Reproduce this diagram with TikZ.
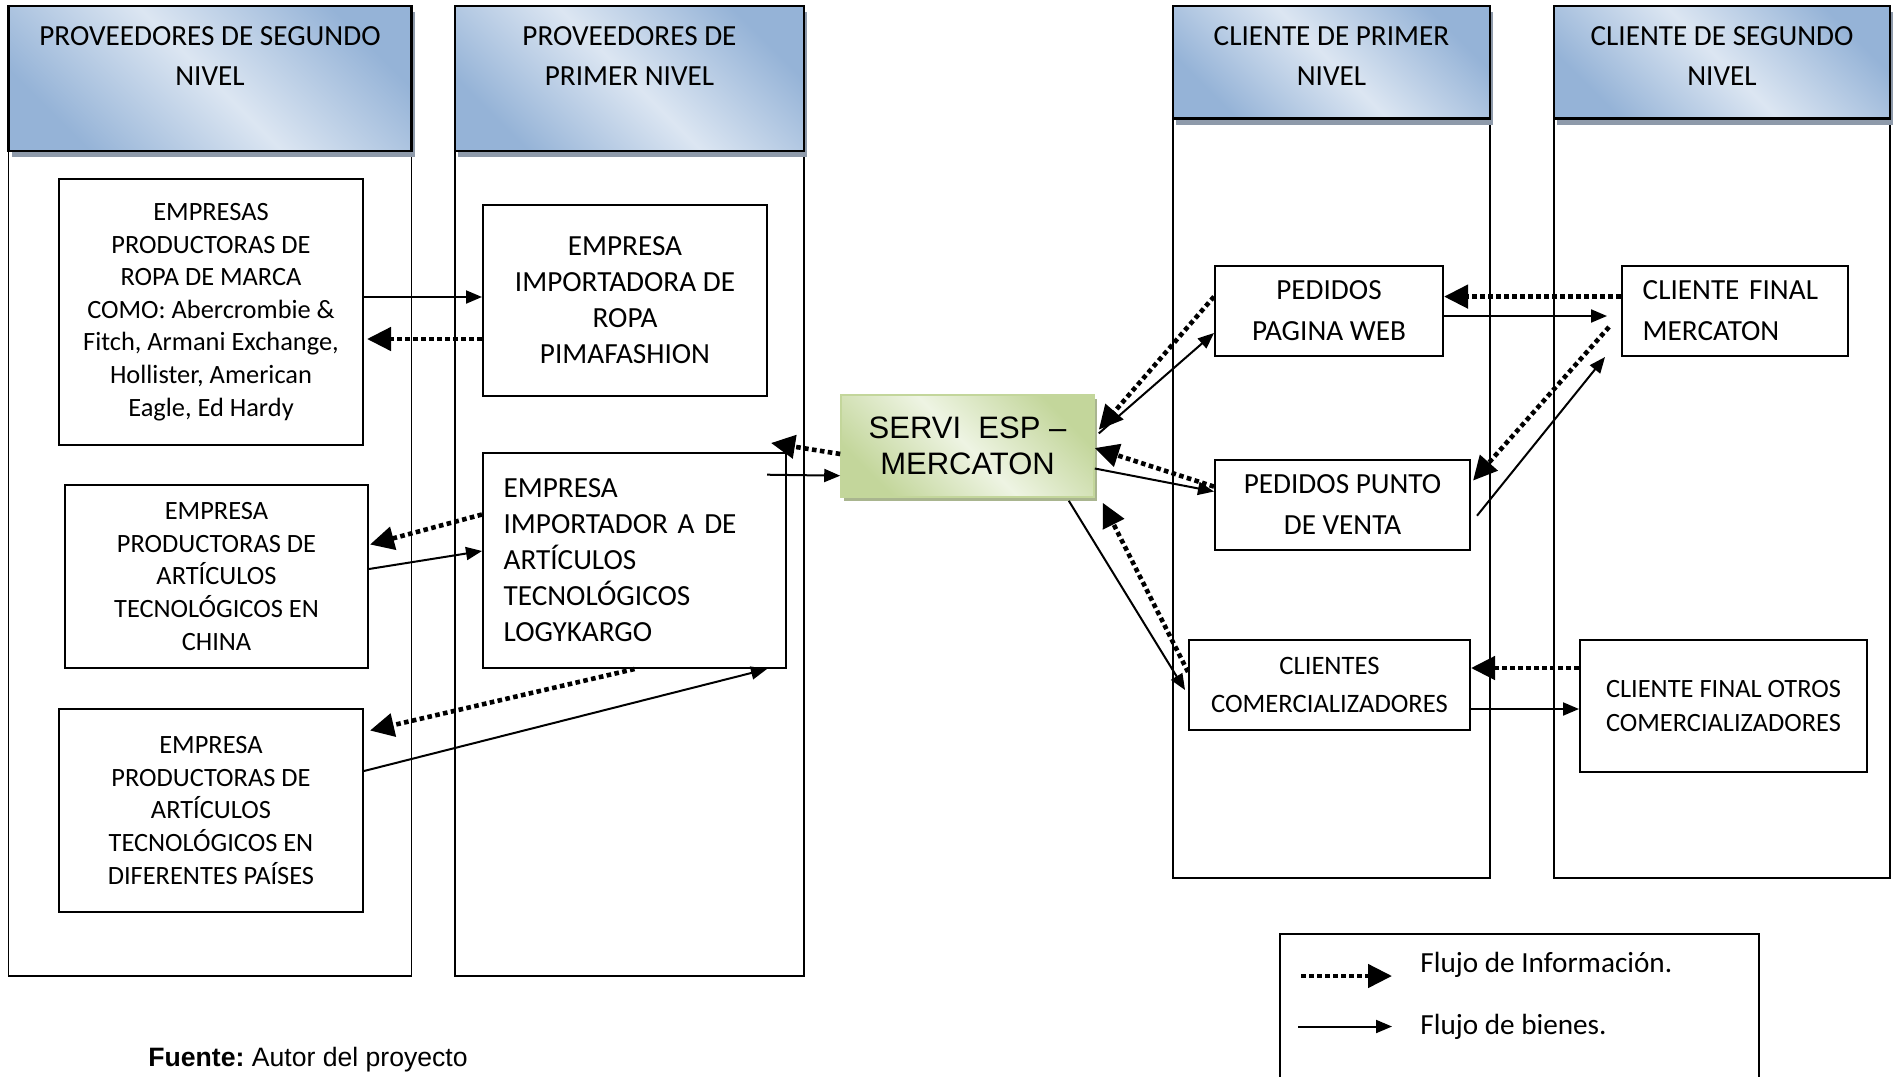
\documentclass[tikz,border=0pt]{standalone}
\usepackage{fontspec}
\setmainfont{Carlito}
\newfontfamily\arialfont{Liberation Sans}
\usetikzlibrary{positioning, arrows.meta, shadows}

\definecolor{headdark}{HTML}{95B3D7}
\definecolor{headlight}{HTML}{DCE6F2}
\definecolor{headshadow}{HTML}{8E9AAA}
\definecolor{greendark}{HTML}{C3D69B}
\definecolor{greenlight}{HTML}{EEF4E3}
\definecolor{greenshadow}{HTML}{A9B58F}

\newcommand{\fntbig}{\fontsize{14.6}{18}\selectfont}
\newcommand{\fntsmall}{\fontsize{13.2}{16.3}\selectfont}

\begin{document}
\begin{tikzpicture}[
    x=0.5pt, y=-0.5pt,
    column/.style={draw, line width=0.8pt, inner sep=0pt},
    header/.style={draw, line width=1.4pt, inner sep=0pt,
                   top color=headdark, bottom color=headdark, middle color=headlight,
                   shading angle=-45,
                   drop shadow={shadow xshift=1.5pt, shadow yshift=-3pt,
                                fill=headshadow, opacity=1}},
    headtxt/.style={align=center, inner sep=0pt, font=\fontsize{14.6}{20}\selectfont},
    box/.style={draw, line width=1pt, align=center, inner sep=0pt},
    servibox/.style={draw=greendark, line width=0.8pt, inner sep=0pt, align=center,
                     top color=greendark, bottom color=greendark, middle color=greenlight,
                     shading angle=-45,
                     drop shadow={shadow xshift=1.5pt, shadow yshift=-2pt,
                                  fill=greenshadow, opacity=1},
                     font=\arialfont\fontsize{15.5}{18}\selectfont},
    info/.style={line width=2.3pt, dash pattern=on 2.3pt off 1.7pt,
                 -{Triangle[length=12pt, width=11.5pt]}},
    goods/.style={line width=1pt, -{Triangle[length=8pt, width=6.5pt]}},
    legtxt/.style={inner sep=0pt, font=\fntbig}
]
\useasboundingbox (0,0) rectangle (1898,1076);

% Columns
\node[column, minimum width=201.5pt, minimum height=485pt] (col1) at (210,491) {};
\node[column, minimum width=174.5pt, minimum height=485pt] (col2) at (629.5,491) {};
\node[column, minimum width=158.5pt, minimum height=436pt] (col3) at (1331.5,442) {};
\node[column, minimum width=168pt, minimum height=436pt] (col4) at (1722,442) {};

% Headers
\node[header, minimum width=201.5pt, minimum height=72.5pt] (head1) at (210,78.5) {};
\node[header, minimum width=174.5pt, minimum height=72.5pt] (head2) at (629.5,78.5) {};
\node[header, minimum width=158.5pt, minimum height=56.3pt] (head3) at (1331.5,62.3) {};
\node[header, minimum width=168pt, minimum height=56.3pt] (head4) at (1722,62.3) {};
\node[headtxt] (head1t) at (210,56) {PROVEEDORES DE SEGUNDO\\NIVEL};
\node[headtxt] (head2t) at (629.5,56) {PROVEEDORES DE\\PRIMER NIVEL};
\node[headtxt] (head3t) at (1331.5,56) {CLIENTE DE PRIMER\\NIVEL};
\node[headtxt] (head4t) at (1722,56) {CLIENTE DE SEGUNDO\\NIVEL};

% Proveedores de segundo nivel
\node[box, font=\fntsmall, minimum width=152pt, minimum height=133pt] (emp1) at (211,312)
    {EMPRESAS\\PRODUCTORAS DE\\ROPA DE MARCA\\COMO: Abercrombie \&\\Fitch, Armani Exchange,\\Hollister, American\\Eagle, Ed Hardy};
\node[box, font=\fntsmall, minimum width=151.5pt, minimum height=91.5pt] (emp2) at (216.5,576.5)
    {EMPRESA\\PRODUCTORAS DE\\ARTÍCULOS\\TECNOLÓGICOS EN\\CHINA};
\node[box, font=\fntsmall, minimum width=152pt, minimum height=101.5pt] (emp3) at (211,810.5)
    {EMPRESA\\PRODUCTORAS DE\\ARTÍCULOS\\TECNOLÓGICOS EN\\DIFERENTES PAÍSES};

% Proveedores de primer nivel
\node[box, font=\fntbig, minimum width=142pt, minimum height=95.5pt] (imp1) at (625,300.5)
    {EMPRESA\\IMPORTADORA DE\\ROPA\\PIMAFASHION};
\node[box, font=\fntbig, align=left, inner xsep=10.3pt, text width=130.9pt,
      minimum height=107.5pt] (imp2) at (634.5,560.5)
    {EMPRESA\\IMPORTADOR A DE\\ARTÍCULOS\\TECNOLÓGICOS\\LOGYKARGO};

% Empresa
\node[servibox, minimum width=126.5pt, minimum height=51pt] (servi) at (967.5,446)
    {SERVI\ \ ESP –\\MERCATON};

% Clientes de primer nivel
\node[box, font=\fontsize{14.6}{20.5}\selectfont, minimum width=114pt, minimum height=45pt] (web) at (1329,311)
    {PEDIDOS\\PAGINA WEB};
\node[box, font=\fontsize{14.6}{20.5}\selectfont, minimum width=127.5pt, minimum height=45pt] (punto) at (1342.5,505)
    {PEDIDOS PUNTO\\DE VENTA};
\node[box, font=\fontsize{13.3}{19.4}\selectfont, minimum width=140.5pt, minimum height=45pt] (comer) at (1329.5,685)
    {CLIENTES\\COMERCIALIZADORES};

% Clientes de segundo nivel
\node[box, font=\fontsize{14.6}{20.5}\selectfont, align=left, inner xsep=10.35pt, text width=92.3pt,
      minimum height=45pt] (final) at (1735,311)
    {CLIENTE FINAL\\MERCATON};
\node[box, font=\fontsize{13.2}{17}\selectfont, minimum width=143.5pt, minimum height=66pt] (otros) at (1723.5,706)
    {CLIENTE FINAL OTROS\\COMERCIALIZADORES};

% Flujos proveedores
\draw[goods] ([yshift=7.5pt]emp1.east) -- ([yshift=1.75pt]imp1.west);
\draw[info] ([yshift=-19.25pt]imp1.west) -- ([yshift=-13.5pt, xshift=1.5pt]emp1.east);
\draw[info] ([yshift=23pt]imp2.west) -- ([yshift=16pt, xshift=0.5pt]emp2.east);
\draw[goods] ([yshift=3.75pt]emp2.east) -- ([yshift=4.75pt]imp2.west);
\draw[info] (imp2.south) -- ([yshift=40pt, xshift=3pt]emp3.east);
\draw[goods] ([yshift=19.75pt]emp3.east) -- ([xshift=-10pt]imp2.south east);
\draw[info] ([yshift=-4pt]servi.west) -- ([xshift=-8pt, yshift=4.5pt]imp2.north east);
\draw[goods] ([xshift=-10pt, yshift=-11.35pt]imp2.north east) -- ([yshift=-14.85pt]servi.west);

% Flujos clientes
\draw[info] ([yshift=7.2pt]web.west) -- ([xshift=2pt, yshift=8.15pt]servi.east);
\draw[goods] ([xshift=2pt, yshift=6.3pt]servi.east) -- ([yshift=-11pt]web.west);
\draw[info] ([yshift=9.2pt]punto.west) -- ([yshift=-1pt]servi.east);
\draw[goods] ([yshift=-11.25pt]servi.east) -- ([yshift=6.75pt]punto.west);
\draw[info] ([yshift=6.5pt]comer.west) -- ([xshift=4pt, yshift=-2.5pt]servi.south east);
\draw[goods] ([xshift=-13pt, yshift=-1.5pt]servi.south east) -- ([xshift=-1.5pt, yshift=-2.5pt]comer.west);
\draw[info] ([yshift=7.2pt]final.west) -- ([yshift=7.2pt]web.east);
\draw[goods] ([yshift=-2.5pt]web.east) -- ([xshift=-7pt, yshift=-2.5pt]final.west);
\draw[info] ([xshift=-6pt, yshift=-8pt]final.west) -- ([xshift=1pt, yshift=12.2pt]punto.east);
\draw[goods] ([xshift=3pt, yshift=-5.35pt]punto.east) -- ([xshift=-8pt]final.south west);
\draw[info] ([yshift=19pt]otros.west) -- ([yshift=8.5pt]comer.east);
\draw[goods] ([yshift=-12pt]comer.east) -- ([yshift=-1.5pt]otros.west);

% Leyenda
\node[box, minimum width=239.5pt, minimum height=78pt] (legend) at (1519.5,1012) {};
\coordinate (info1) at (1301,976);
\coordinate (info2) at (1392,976);
\coordinate (goods1) at (1298,1026.5);
\coordinate (goods2) at (1392,1026.5);
\draw[info] (info1) -- (info2);
\draw[goods] (goods1) -- (goods2);
\node[legtxt, anchor=west] (infotxt) at (1420,965) {Flujo de Información.};
\node[legtxt, anchor=west] (goodstxt) at (1420,1026.5) {Flujo de bienes.};

% Fuente
\node[inner sep=0pt, anchor=west, font=\arialfont\fontsize{13.3}{16}\selectfont] (fuente) at (148,1060)
    {\textbf{Fuente:}~Autor del proyecto};

\end{tikzpicture}
\end{document}
